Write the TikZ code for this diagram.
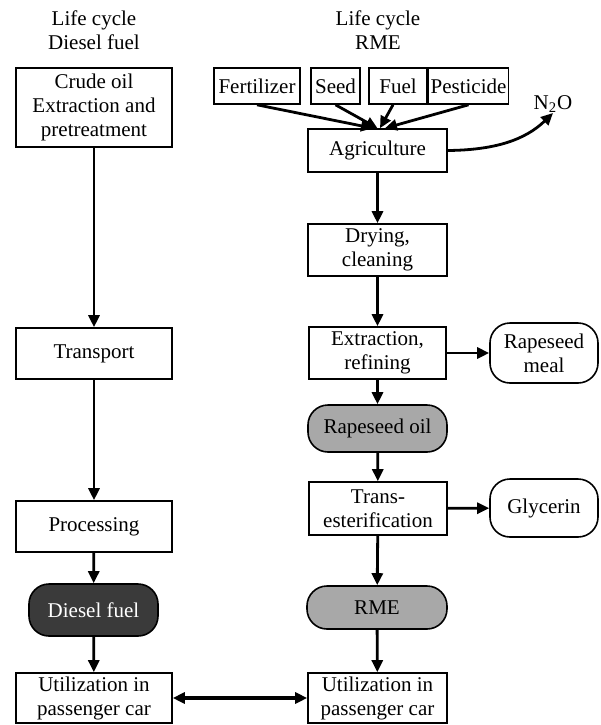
\documentclass[tikz,border=0pt]{standalone}
\usepackage{fontspec}
\setmainfont{Liberation Serif}
\usetikzlibrary{arrows.meta}
\definecolor{ink}{RGB}{0,0,0}
\definecolor{fuelgray}{RGB}{58,58,58}
\definecolor{oilgray}{RGB}{168,168,168}
\newcommand{\figfont}{\fontsize{10.5}{12}\selectfont}
\tikzset{
  stage/.style={draw=ink,line width=0.8pt,fill=white,inner sep=1pt,align=center,font=\figfont},
  inbox/.style={stage,minimum height=18pt},
  pill/.style={stage,rounded corners=10pt},
  outpill/.style={pill,minimum width=54pt},
  title/.style={align=center,font=\figfont,inner sep=0pt},
  arr/.style={-{Triangle[length=6pt,width=5.5pt]},line width=1.4pt,ink},
  twoarr/.style={{Triangle[length=6pt,width=5.5pt]}-{Triangle[length=6pt,width=5.5pt]},line width=1.6pt,ink},
}

\begin{document}
\begin{tikzpicture}[x=0.5pt,y=-0.5pt]
  \useasboundingbox (0,0) rectangle (601,725);
  % titles
  \node[title] (tdiesel) at (94,30) {Life cycle\\Diesel fuel};
  \node[title] (trme) at (378,30) {Life cycle\\RME};
  % diesel column
  \node[stage,minimum width=78pt,minimum height=39.5pt] (crude) at (94,107.5)
    {Crude oil\\Extraction and\\pretreatment};
  \node[stage,minimum width=78pt,minimum height=25.5pt] (transp) at (94,353.5) {Transport};
  \node[stage,minimum width=78pt,minimum height=25.5pt] (proc) at (94,526.5) {Processing};
  \node[pill,fill=fuelgray,text=white,minimum width=64.5pt,minimum height=26pt] (diesel) at (93.5,610) {Diesel fuel};
  \node[stage,minimum width=78pt,minimum height=25pt] (useD) at (94,698)
    {Utilization in\\passenger car};
  % inputs
  \node[inbox,minimum width=43pt] (fert) at (257,86) {Fertilizer};
  \node[inbox,minimum width=24.5pt] (seed) at (335.5,86) {Seed};
  \node[inbox,minimum width=29pt] (fuel) at (398,86) {Fuel};
  \node[inbox,minimum width=38.5pt] (pest) at (468.5,86) {Pesticide};
  % RME column
  \node[stage,minimum width=69.5pt,minimum height=21.5pt] (agri) at (377.5,150.5) {Agriculture};
  \node[title] (n2o) at (553,104) {N\textsubscript{2}O};
  \node[stage,minimum width=69.5pt,minimum height=26pt] (dry) at (377.5,250) {Drying,\\cleaning};
  \node[stage,minimum width=68.5pt,minimum height=26pt] (extr) at (377.5,353) {Extraction,\\refining};
  \node[outpill,minimum height=30pt] (meal) at (544,353) {Rapeseed\\meal};
  \node[pill,fill=oilgray,minimum width=69.5pt,minimum height=23.5pt] (oil) at (377.5,428.5) {Rapeseed oil};
  \node[stage,minimum width=69pt,minimum height=26.5pt] (trans) at (378,508.5) {Trans-\\esterification};
  \node[outpill,minimum height=29pt] (glyc) at (544,508) {Glycerin};
  \node[pill,fill=oilgray,minimum width=70pt,minimum height=21.5pt] (rme) at (377,607.5) {RME};
  \node[stage,minimum width=69.5pt,minimum height=25pt] (useR) at (377.5,698)
    {Utilization in\\passenger car};

  % edges
  \draw[arr] (crude) -- (transp);
  \draw[arr] (transp) -- (proc);
  \draw[arr] (proc) -- (diesel);
  \draw[arr] (diesel) -- (useD);
  \draw[twoarr] (useD) -- (useR);
  \draw[arr] (fert.south) -- ([xshift=-2.25pt]agri.north);
  \draw[arr] (seed.south) -- (agri.north);
  \draw[arr] ([xshift=-2.5pt]fuel.south) -- ([xshift=1.25pt]agri.north);
  \draw[arr] (pest.south) -- ([xshift=3.75pt]agri.north);
  \draw[arr] (agri.east) .. controls (495,150) and (525,140) .. (n2o.south);
  \draw[arr] (agri) -- (dry);
  \draw[arr] (dry) -- (extr);
  \draw[arr] (extr) -- (meal);
  \draw[arr] (extr) -- (oil);
  \draw[arr] (oil) -- (trans);
  \draw[arr] (trans) -- (glyc);
  \draw[arr] (trans) -- (rme);
  \draw[arr] (rme) -- (useR);
\end{tikzpicture}
\end{document}
